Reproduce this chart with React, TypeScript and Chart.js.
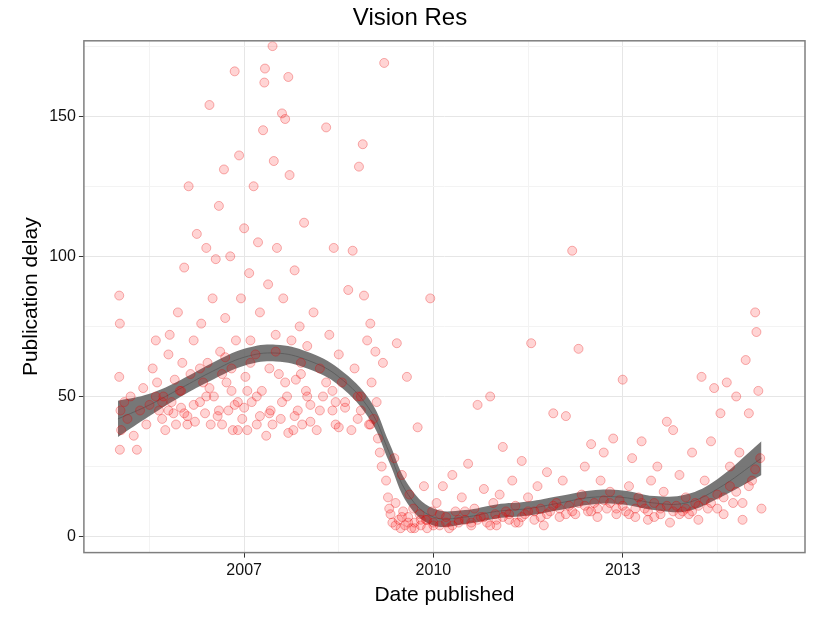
import { useEffect, useRef } from "react"
import { Chart, registerables } from "chart.js"

Chart.register(...registerables)

// [year, delay in days]
const points: [number, number][] = [
  [2005.02,86],[2005.03,76],[2005.02,57],[2005.04,45],[2005.05,38],[2005.03,31],[2005.1,48],[2005.15,42],[2005.2,50],[2005.25,36],[2005.3,31],[2005.35,45],[2005.4,53],[2005.45,40],[2005.5,47],
  [2005.55,60],[2005.6,70],[2005.62,55],[2005.65,45],[2005.7,42],[2005.72,50],[2005.75,38],[2005.8,65],[2005.82,72],[2005.85,48],[2005.88,44],[2005.9,56],[2005.92,40],[2005.95,80],[2005.98,52],
  [2006.0,46],[2006.02,62],[2006.05,96],[2006.1,43],[2006.12,125],[2006.15,58],[2006.2,70],[2006.22,41],[2006.25,108],[2006.3,48],[2006.32,76],[2006.35,55],[2006.38,44],[2006.4,103],[2006.42,62],[2006.45,154],[2006.47,40],[2006.5,85],
  [2006.52,50],[2006.55,99],[2006.58,43],[2006.6,118],[2006.62,66],[2006.65,40],[2006.68,131],[2006.7,78],[2006.72,55],[2006.75,45],[2006.78,100],[2006.8,60],[2006.82,38],[2006.85,166],[2006.87,70],[2006.9,48],[2006.92,136],[2006.95,85],[2006.97,42],[2007.0,110],
  [2007.02,57],[2007.05,38],[2007.08,94],[2007.1,70],[2007.12,48],[2007.15,125],[2007.18,65],[2007.2,40],[2007.22,105],[2007.25,80],[2007.28,52],[2007.3,145],[2007.32,162],[2007.33,167],[2007.35,36],[2007.38,90],[2007.4,60],[2007.42,45],[2007.45,175],[2007.47,134],[2007.5,72],
  [2007.52,103],[2007.55,58],[2007.58,42],[2007.6,151],[2007.62,85],[2007.65,149],[2007.68,50],[2007.7,164],[2007.72,129],[2007.75,70],[2007.78,38],[2007.8,95],[2007.82,56],[2007.85,45],[2007.88,75],[2007.9,62],[2007.92,40],[2007.95,112],[2007.98,52],
  [2008.0,68],[2008.05,47],[2008.1,80],[2008.15,38],[2008.2,60],[2008.25,50],[2008.3,146],[2008.35,72],[2008.4,45],[2008.42,103],[2008.45,40],[2008.5,65],[2008.55,55],[2008.6,48],[2008.65,88],[2008.7,38],[2008.72,102],[2008.75,60],[2008.8,50],[2008.82,132],[2008.85,45],[2008.88,140],[2008.9,86],[2008.95,70],[2008.98,40],
  [2009.0,76],[2009.02,55],[2009.05,42],[2009.08,66],[2009.1,48],[2009.12,35],[2009.15,30],[2009.18,25],[2009.2,62],[2009.22,169],[2009.25,20],[2009.28,14],[2009.3,10],
  [2009.32,8],[2009.35,5],[2009.38,28],[2009.4,12],[2009.42,69],[2009.45,6],[2009.48,3],[2009.5,22],[2009.52,9],[2009.55,4],[2009.58,57],[2009.6,7],[2009.62,15],[2009.65,3],[2009.68,10],[2009.7,5],[2009.75,39],[2009.78,8],[2009.8,4],[2009.85,18],[2009.88,6],[2009.9,3],[2009.95,85],[2009.98,9],
  [2010.0,5],[2010.05,12],[2010.1,4],[2010.15,18],[2010.2,7],[2010.25,3],[2010.3,22],[2010.35,9],[2010.4,5],[2010.45,14],[2010.5,6],[2010.55,26],[2010.6,4],[2010.65,10],[2010.7,47],[2010.75,7],[2010.8,17],[2010.85,5],[2010.9,50],[2010.95,12],[2010.98,8],
  [2011.0,4],[2011.05,15],[2011.1,32],[2011.15,9],[2011.2,6],[2011.25,20],[2011.3,11],[2011.35,5],[2011.4,27],[2011.45,8],[2011.5,14],[2011.55,69],[2011.6,6],[2011.65,18],[2011.7,10],[2011.75,4],[2011.8,23],[2011.85,9],[2011.9,44],[2011.95,12],
  [2012.0,7],[2012.05,20],[2012.1,43],[2012.15,11],[2012.2,102],[2012.25,8],[2012.3,67],[2012.35,15],[2012.4,25],[2012.45,9],[2012.5,33],[2012.55,12],[2012.6,7],[2012.65,20],[2012.7,30],[2012.75,10],[2012.8,16],[2012.85,35],[2012.9,8],[2012.95,13],
  [2013.0,56],[2013.05,9],[2013.1,18],[2013.15,28],[2013.2,7],[2013.25,14],[2013.3,34],[2013.35,10],[2013.4,6],[2013.45,20],[2013.5,12],[2013.55,25],[2013.6,8],[2013.65,16],[2013.7,41],[2013.75,5],[2013.8,38],[2013.85,11],[2013.9,22],[2013.95,9],
  [2014.0,14],[2014.05,8],[2014.1,30],[2014.15,12],[2014.2,6],[2014.25,57],[2014.3,20],[2014.35,10],[2014.4,34],[2014.45,53],[2014.5,15],[2014.55,44],[2014.6,8],[2014.65,55],[2014.7,25],[2014.75,12],[2014.8,50],[2014.85,30],[2014.9,6],[2014.95,63],[2015.0,44],[2015.05,20],[2015.1,80],[2015.12,73],[2015.15,52],[2015.18,28],[2015.2,10],
  // dense cores
  [2005.6,50],[2005.8,45],[2006.0,52],[2006.2,47],[2006.4,50],[2006.6,45],[2006.8,52],[2007.0,46],[2007.2,50],[2007.4,44],[2007.6,48],[2007.8,43],[2008.0,50],[2008.2,45],[2008.4,52],[2008.6,46],[2008.8,42],[2009.0,40],
  [2006.3,60],[2006.7,64],[2007.1,62],[2007.5,66],[2007.9,58],[2008.3,55],[2006.1,40],[2006.9,38],[2007.7,37],[2008.5,39],
  [2005.7,48],[2006.05,44],[2006.45,53],[2006.85,47],[2007.25,43],[2007.65,55],[2008.05,41],[2008.45,48],[2008.85,50],[2007.05,52],[2007.45,40],[2006.65,58],
  [2009.4,4],[2009.6,5],[2009.8,6],[2010.0,4],[2010.2,5],[2010.4,6],[2010.6,5],[2010.8,7],[2011.0,6],[2011.2,8],[2011.4,7],[2011.6,9],[2011.8,8],[2012.0,10],[2012.2,9],[2012.4,11],[2012.6,10],[2012.8,12],[2013.0,11],[2013.2,10],[2013.4,9],[2013.6,10],[2013.8,9],[2014.0,10],[2014.2,11],[2014.4,12],[2014.6,14],[2014.8,16],[2015.0,18],
  [2009.5,7],[2009.7,3],[2009.9,6],[2010.1,8],[2010.3,4],[2010.5,9],[2010.7,6],[2010.9,4],[2011.1,7],[2011.3,5],[2011.5,9],[2011.7,7],[2011.9,11],[2012.1,8],[2012.3,12],[2012.5,9],[2012.7,13],[2012.9,10],[2013.1,8],[2013.3,12],[2013.5,7],[2013.7,11],[2013.9,8],[2014.1,9],[2014.3,13],[2014.5,10],[2014.7,18],[2014.9,12],[2015.1,24],
]

// smoothed fit: year, fit, half-width of band
const smoothYears = [2005.0, 2005.5, 2006.0, 2006.5, 2007.0, 2007.5, 2008.0, 2008.5, 2009.0, 2009.3, 2009.6, 2010.0, 2010.5, 2011.0, 2011.5, 2012.0, 2012.5, 2013.0, 2013.5, 2014.0, 2014.5, 2015.2]
const smoothFit = [42, 47, 53, 59, 64, 65.5, 63, 57, 45, 30, 15, 7, 7, 9, 10, 12, 14, 14, 12, 12, 17, 28]
const smoothHalf = [6.5, 4, 3, 3, 3, 3, 3, 3, 3.5, 3.5, 3.5, 3, 2.5, 2.5, 2.5, 2.5, 2.5, 2.5, 2.5, 3, 3.5, 6]

const xTicks = [2005.5, 2007, 2008.5, 2010, 2011.5, 2013, 2014.5]
const yTicks = [0, 25, 50, 75, 100, 125, 150, 175]

const font = "'Liberation Sans', Arial, sans-serif"

export default function App() {
  const ref = useRef<HTMLCanvasElement>(null)

  useEffect(() => {
    document.body.style.margin = "0"
    if (!ref.current) return
    const band = (sign: number) =>
      smoothYears.map((x, i) => ({ x, y: smoothFit[i] + sign * smoothHalf[i] }))
    const border = {
      id: "panelBorder",
      afterDraw(c: Chart) {
        const { left, top, right, bottom } = c.chartArea
        c.ctx.save()
        c.ctx.strokeStyle = "#7f7f7f"
        c.ctx.lineWidth = 1.5
        c.ctx.strokeRect(left, top, right - left, bottom - top)
        c.ctx.restore()
      },
    }
    const chart = new Chart(ref.current, {
      type: "scatter",
      data: {
        datasets: [
          {
            data: points.map(([x, y]) => ({ x, y })),
            pointRadius: 4.5,
            backgroundColor: "rgba(255,0,0,0.17)",
            borderColor: "rgba(230,0,0,0.3)",
            borderWidth: 1,
          },
          {
            type: "line",
            data: band(1),
            borderWidth: 0,
            pointRadius: 0,
            tension: 0.4,
            fill: false,
          },
          {
            type: "line",
            data: band(-1),
            borderWidth: 0,
            pointRadius: 0,
            tension: 0.4,
            fill: "-1",
            backgroundColor: "rgba(95,95,95,0.85)",
          },
          {
            type: "line",
            data: smoothYears.map((x, i) => ({ x, y: smoothFit[i] })),
            borderColor: "rgba(75,75,75,0.9)",
            borderWidth: 1,
            pointRadius: 0,
            tension: 0.4,
          },
        ],
      },
      options: {
        animation: false,
        responsive: false,
        layout: { padding: { right: 20, left: 15, bottom: 6 } },
        plugins: {
          legend: { display: false },
          tooltip: { enabled: false },
          title: { display: true, text: "Vision Res", color: "#000", font: { family: font, size: 24, weight: "normal" }, padding: { top: 4, bottom: 8 } },
        },
        scales: {
          x: {
            type: "linear",
            min: 2004.46,
            max: 2015.89,
            afterBuildTicks: (s) => { s.ticks = xTicks.map((value) => ({ value })) },
            ticks: {
              color: "#111",
              font: { family: font, size: 16 },
              autoSkip: false,
              maxRotation: 0,
              callback: (v) => (Number(v) % 3 === 0 ? String(v) : ""),
            },
            grid: { color: (c) => (Number(c.tick?.value) % 3 === 0 ? "#e6e6e6" : "#f3f3f3"), tickColor: (c) => (Number(c.tick?.value) % 3 === 0 ? "#333" : "transparent"), tickLength: 5 },
            border: { display: false },
            title: { display: true, text: "Date published", color: "#000", font: { family: font, size: 21 }, padding: { top: 0 } },
          },
          y: {
            min: -5.7,
            max: 176.9,
            afterBuildTicks: (s) => { s.ticks = yTicks.map((value) => ({ value })) },
            ticks: {
              color: "#111",
              font: { family: font, size: 16 },
              autoSkip: false,
              callback: (v) => (Number(v) % 50 === 0 ? String(v) : ""),
            },
            grid: { color: (c) => (Number(c.tick?.value) % 50 === 0 ? "#e6e6e6" : "#f3f3f3"), tickColor: (c) => (Number(c.tick?.value) % 50 === 0 ? "#333" : "transparent"), tickLength: 5 },
            border: { display: false },
            title: { display: true, text: "Publication delay", color: "#000", font: { family: font, size: 21 }, padding: { bottom: 2 } },
          },
        },
      },
      plugins: [border],
    })
    return () => chart.destroy()
  }, [])

  return <canvas ref={ref} width={825} height={618} style={{ display: "block" }} />
}
